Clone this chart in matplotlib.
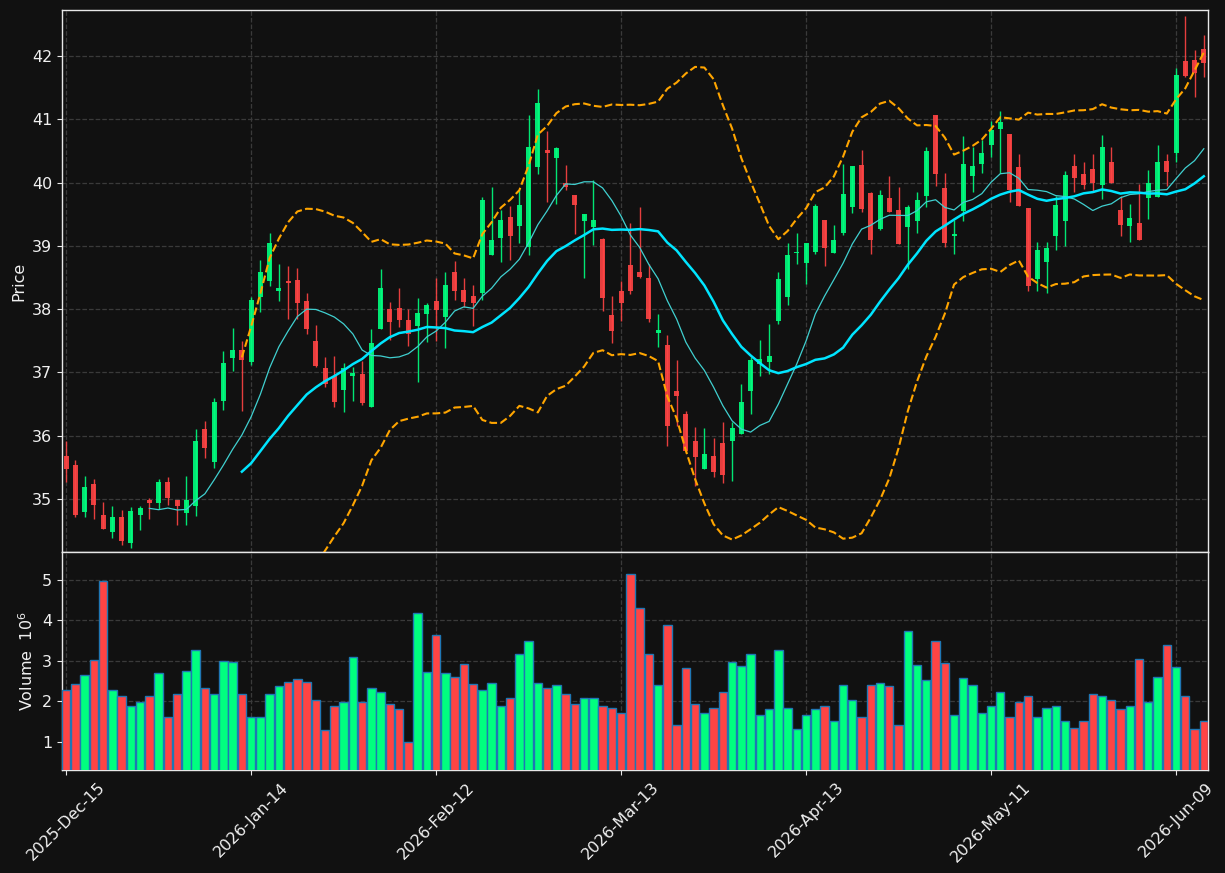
import numpy as np
import pandas as pd
import matplotlib
matplotlib.use('Agg')
import matplotlib.pyplot as plt

# OHLC + volume (volume in millions)
opens = [35.68, 35.54, 34.80, 35.24, 34.75, 34.47, 34.72, 34.31, 34.75, 34.99,
         34.93, 35.27, 34.99, 34.77, 34.88, 36.11, 35.59, 36.54, 37.23, 37.36,
         37.17, 38.19, 38.44, 38.29, 38.45, 38.46, 38.13, 37.50, 37.07, 36.95,
         36.72, 36.95, 36.98, 36.46, 37.69, 38.00, 38.02, 37.83, 37.74, 37.93,
         38.13, 37.88, 38.58, 38.30, 38.21, 38.26, 38.85, 39.13, 39.46, 39.32,
         38.99, 40.25, 40.52, 40.39, 40.00, 39.80, 39.40, 39.30, 39.11, 37.91,
         38.29, 38.70, 38.59, 38.50, 37.63, 37.43, 36.71, 36.34, 35.92, 35.48,
         35.68, 35.89, 35.92, 36.03, 36.71, 37.13, 37.17, 37.82, 38.20, 38.89,
         38.73, 38.90, 39.41, 38.89, 39.21, 39.62, 40.28, 39.84, 39.27, 39.75,
         39.57, 39.30, 39.40, 39.79, 41.07, 39.91, 39.15, 39.56, 40.11, 40.30,
         40.60, 40.85, 40.77, 40.25, 39.60, 38.48, 38.75, 39.15, 39.40, 40.26,
         40.14, 40.22, 39.96, 40.33, 39.57, 39.32, 39.36, 39.75, 39.78, 40.34,
         40.47, 41.92, 41.94, 42.11]
highs = [35.92, 35.62, 35.36, 35.31, 34.95, 34.89, 34.82, 34.87, 34.89, 35.02,
         35.31, 35.34, 34.99, 35.36, 36.10, 36.23, 36.59, 37.34, 37.70, 37.49,
         38.20, 38.77, 39.21, 38.71, 38.68, 38.65, 38.25, 37.75, 37.24, 37.26,
         37.15, 37.09, 37.18, 37.69, 38.63, 38.11, 38.33, 38.00, 38.17, 38.09,
         38.50, 38.58, 38.76, 38.50, 38.38, 39.77, 39.93, 39.57, 39.63, 39.88,
         41.07, 41.48, 40.82, 40.57, 40.28, 39.80, 39.51, 40.05, 39.13, 38.21,
         38.44, 39.37, 39.61, 38.72, 37.92, 37.59, 37.20, 36.39, 36.13, 36.12,
         35.96, 36.21, 36.22, 36.81, 37.25, 37.51, 37.77, 38.58, 39.04, 39.21,
         39.05, 39.67, 39.41, 39.33, 40.29, 40.26, 40.52, 39.86, 39.89, 40.11,
         39.93, 39.65, 39.86, 40.57, 41.07, 40.15, 39.41, 40.74, 40.57, 40.67,
         40.98, 41.13, 40.77, 40.45, 39.60, 39.06, 39.06, 39.79, 40.19, 40.46,
         40.33, 40.46, 40.76, 40.56, 39.79, 39.67, 39.98, 40.20, 40.60, 40.45,
         41.81, 42.63, 42.10, 42.33]
lows = [35.26, 34.71, 34.71, 34.68, 34.53, 34.38, 34.27, 34.22, 34.50, 34.68,
        34.84, 34.91, 34.59, 34.59, 34.73, 35.64, 35.49, 36.40, 37.03, 36.39,
        37.11, 37.96, 38.36, 38.13, 37.84, 37.85, 37.60, 37.09, 36.77, 36.45,
        36.38, 36.54, 36.49, 36.46, 37.69, 37.51, 37.72, 37.41, 36.85, 37.48,
        37.49, 37.38, 38.14, 38.04, 37.74, 38.15, 38.85, 38.74, 38.77, 39.04,
        38.85, 40.13, 39.70, 39.66, 39.88, 39.19, 38.50, 39.01, 37.97, 37.46,
        37.82, 38.24, 38.50, 37.80, 37.40, 35.84, 36.16, 35.72, 35.20, 35.48,
        35.34, 35.25, 35.29, 36.03, 36.35, 36.95, 36.97, 37.77, 38.07, 38.72,
        38.39, 38.88, 38.69, 38.89, 39.18, 39.52, 39.53, 38.88, 39.25, 39.54,
        39.03, 38.63, 39.20, 39.62, 39.94, 38.99, 38.88, 39.39, 39.86, 40.16,
        40.40, 40.16, 39.69, 39.63, 38.29, 38.28, 38.25, 38.93, 39.00, 39.85,
        39.90, 39.85, 39.74, 40.00, 39.15, 39.06, 39.09, 39.43, 39.78, 39.94,
        40.33, 41.67, 41.35, 41.67]
closes = [35.48, 34.75, 35.18, 34.91, 34.53, 34.72, 34.33, 34.81, 34.86, 34.93,
          35.27, 35.01, 34.88, 34.99, 35.92, 35.80, 36.53, 37.15, 37.36, 37.19,
          38.15, 38.58, 39.05, 38.33, 38.41, 38.09, 37.69, 37.10, 36.82, 36.53,
          37.07, 36.99, 36.51, 37.47, 38.33, 37.80, 37.83, 37.61, 37.94, 38.07,
          37.99, 38.38, 38.29, 38.12, 38.10, 39.72, 39.09, 39.41, 39.15, 39.65,
          40.57, 41.26, 40.47, 40.55, 39.93, 39.64, 39.51, 39.41, 38.18, 37.66,
          38.09, 38.29, 38.51, 37.85, 37.67, 36.16, 36.62, 35.75, 35.67, 35.71,
          35.43, 35.37, 36.12, 36.53, 37.20, 37.21, 37.26, 38.48, 38.86, 38.90,
          39.05, 39.63, 38.96, 39.10, 39.82, 40.26, 39.59, 39.10, 39.80, 39.54,
          39.03, 39.61, 39.73, 40.50, 40.14, 39.05, 39.19, 40.29, 40.26, 40.47,
          40.83, 40.96, 39.88, 39.63, 38.36, 38.94, 38.97, 39.65, 40.12, 40.08,
          39.97, 40.00, 40.57, 40.00, 39.33, 39.44, 39.09, 40.00, 40.33, 40.17,
          41.70, 41.69, 41.73, 41.89]
volumes = [2.27, 2.42, 2.64, 3.01, 4.98, 2.27, 2.12, 1.87, 1.99, 2.14,
           2.69, 1.60, 2.19, 2.74, 3.26, 2.32, 2.19, 2.99, 2.96, 2.19,
           1.60, 1.60, 2.19, 2.37, 2.47, 2.54, 2.47, 2.02, 1.30, 1.89,
           1.97, 3.09, 1.99, 2.32, 2.22, 1.92, 1.80, 0.98, 4.18, 2.72,
           3.63, 2.69, 2.61, 2.91, 2.42, 2.27, 2.44, 1.89, 2.09, 3.16,
           3.48, 2.44, 2.32, 2.39, 2.19, 1.94, 2.07, 2.09, 1.89, 1.84,
           1.72, 5.15, 4.30, 3.16, 2.39, 3.88, 1.42, 2.81, 1.92, 1.72,
           1.84, 2.22, 2.96, 2.86, 3.16, 1.67, 1.80, 3.26, 1.84, 1.32,
           1.67, 1.82, 1.87, 1.52, 2.39, 2.02, 1.62, 2.39, 2.44, 2.37,
           1.40, 3.73, 2.89, 2.52, 3.48, 2.94, 1.67, 2.57, 2.39, 1.70,
           1.89, 2.22, 1.60, 1.99, 2.12, 1.60, 1.84, 1.89, 1.50, 1.35,
           1.52, 2.19, 2.14, 2.04, 1.80, 1.87, 3.04, 1.97, 2.61, 3.39,
           2.84, 2.14, 1.32, 1.50]

holidays = ['2025-12-25', '2026-01-01', '2026-01-19', '2026-02-16', '2026-04-03', '2026-05-25']
dates = pd.bdate_range(start='2025-12-15', periods=len(closes), freq='C', holidays=holidays)

df = pd.DataFrame({'Open': opens, 'High': highs, 'Low': lows, 'Close': closes,
                   'Volume': volumes}, index=dates)
x = np.arange(len(df))

ma10 = df['Close'].rolling(10).mean()
ma20 = df['Close'].rolling(20).mean()
std20 = df['Close'].rolling(20).std(ddof=0)
bb_up = ma20 + 2 * std20
bb_lo = ma20 - 2 * std20

bg = '#111111'
up_c, down_c = '#00ff7f', '#ff4444'
plt.rcParams['font.size'] = 11.5

fig = plt.figure(figsize=(12.25, 8.73), dpi=100, facecolor=bg)
ax = fig.add_axes([0.0506, 0.3677, 0.9355, 0.6208], facecolor=bg)
axv = fig.add_axes([0.0506, 0.118, 0.9355, 0.2497], facecolor=bg, sharex=ax)

is_up = df['Close'] >= df['Open']
colors = np.where(is_up, up_c, down_c)
body_lo = np.minimum(df['Open'], df['Close'])
body_h = np.maximum(np.abs(df['Close'] - df['Open']), 0.02)

ax.vlines(x, df['Low'], df['High'], colors=colors, linewidth=1.0, alpha=0.9, zorder=2)
ax.bar(x, body_h, bottom=body_lo, width=0.55, color=colors, alpha=0.9,
       linewidth=0, zorder=3)

ax.plot(x, ma10, color='#40d0d0', linewidth=0.9, zorder=4)
ax.plot(x, ma20, color='#00e5ff', linewidth=1.8, zorder=4)
ax.plot(x, bb_up, color='#ffa500', linestyle='--', linewidth=1.5, zorder=4)
ax.plot(x, bb_lo, color='#ffa500', linestyle='--', linewidth=1.5, zorder=4)

axv.bar(x, df['Volume'], width=0.9, color=colors, edgecolor='#1f77b4',
        linewidth=1.0, zorder=3)

ax.set_xlim(-0.45, len(df) - 0.55)
ax.set_ylim(34.16, 42.73)
axv.set_ylim(0.3, 5.69)

ticks = x[::20]
axv.set_xticks(ticks)
axv.set_xticklabels([d.strftime('%Y-%b-%d') for d in dates[::20]], rotation=45)
ax.tick_params(axis='x', labelbottom=False, length=0)
ax.set_yticks(range(35, 43))
axv.set_yticks(range(1, 6))

for a in (ax, axv):
    a.grid(True, color='#3a3a3a', linestyle='--', linewidth=0.9)
    a.set_axisbelow(True)
    for s in a.spines.values():
        s.set_color('#e8e8e8')
        s.set_linewidth(1.0)
    a.tick_params(colors='#e8e8e8', labelcolor='#f0f0f0')

ax.set_ylabel('Price', color='#f0f0f0')
axv.set_ylabel('Volume  $10^{6}$', color='#f0f0f0')

fig.savefig('out.png', dpi=100, facecolor=bg)
